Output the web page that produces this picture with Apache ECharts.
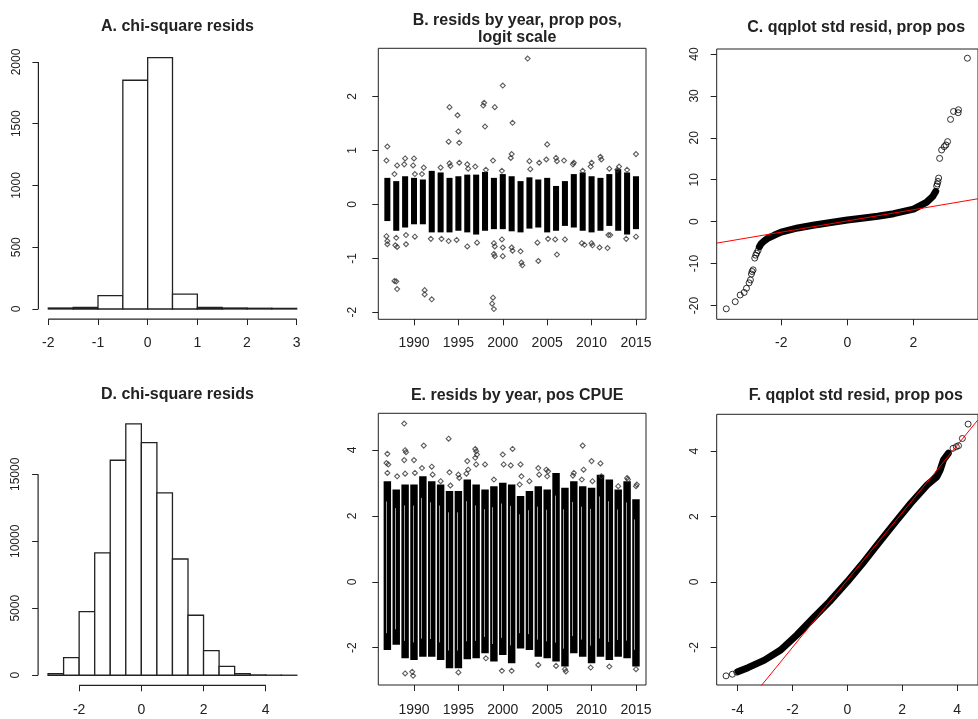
<!DOCTYPE html>
<html><head><meta charset="utf-8">
<script src="https://cdn.jsdelivr.net/npm/echarts@6/dist/echarts.min.js"></script>
<style>html,body{margin:0;padding:0;background:#fff}#c{width:978px;height:719px}</style>
</head><body><div id="c"></div>
<script>
// ---------- DATA ----------
// A. histogram of chi-square residuals (binomial part)
const histA_breaks = [-2,-1.5,-1,-0.5,0,0.5,1,1.5,2,2.5,3];
const histA_counts = [8,12,108,1852,2035,121,12,8,6,5];
const ticksA_x = [-2,-1,0,1,2,3];
const ticksA_y = [0,500,1000,1500,2000];

// D. histogram of chi-square residuals (positive part)
const histD_breaks = [-3,-2.5,-2,-1.5,-1,-0.5,0,0.5,1,1.5,2,2.5,3,3.5,4,4.5,5];
const histD_counts = [120,1320,4750,9130,16050,18760,17370,13610,8680,4480,1840,670,120,25,8,3];
const ticksD_x = [-2,0,2,4];
const ticksD_y = [0,5000,10000,15000];

// B. resids by year (logit scale): dense core per year
const years = [1987,1988,1989,1990,1991,1992,1993,1994,1995,1996,1997,1998,1999,2000,2001,2002,2003,2004,2005,2006,2007,2008,2009,2010,2011,2012,2013,2014,2015];
const coreB_low  = [-0.31,-0.49,-0.43,-0.37,-0.37,-0.52,-0.52,-0.52,-0.49,-0.52,-0.56,-0.49,-0.46,-0.46,-0.50,-0.52,-0.45,-0.43,-0.52,-0.49,-0.40,-0.43,-0.49,-0.52,-0.49,-0.40,-0.49,-0.56,-0.46];
const coreB_high = [0.49,0.43,0.52,0.49,0.46,0.62,0.59,0.49,0.52,0.55,0.55,0.60,0.49,0.56,0.52,0.43,0.50,0.46,0.49,0.34,0.43,0.56,0.59,0.52,0.49,0.56,0.65,0.59,0.52];
const outB = [
 [1987.0,1.07],[1986.9,0.81],[1986.9,-0.59],[1987.0,-0.68],[1987.0,-0.74],
 [1988.1,0.72],[1987.8,0.56],[1988.0,-0.62],[1987.9,-0.76],[1988.1,-0.79],[1987.8,-1.42],[1988.0,-1.43],[1988.1,-1.57],
 [1989.0,0.85],[1988.9,0.74],[1989.1,-0.57],[1989.1,-0.74],
 [1990.0,0.85],[1989.9,0.72],[1990.1,0.56],[1990.1,-0.60],
 [1991.1,0.68],[1990.9,0.56],[1991.2,-1.59],[1991.2,-1.67],
 [1991.9,-0.64],[1992.0,-1.76],
 [1993.0,0.68],[1993.1,-0.64],
 [1994.0,1.80],[1993.9,1.16],[1994.0,0.76],[1994.1,0.71],[1993.9,-0.68],
 [1994.9,1.65],[1995.0,1.35],[1995.1,1.14],[1995.1,0.77],[1994.8,-0.66],
 [1996.0,0.74],[1996.1,0.66],[1996.0,-0.78],
 [1996.9,0.70],[1997.1,-0.71],
 [1997.8,1.83],[1997.9,1.88],[1998.0,1.44],[1998.1,0.64],
 [1998.9,0.81],[1999.1,1.80],[1999.0,-0.72],[1999.1,-0.78],[1999.0,-0.92],[1999.1,-0.96],[1998.9,-1.73],[1998.8,-1.84],[1999.0,-1.94],
 [2000.0,2.20],[1999.9,0.62],[1999.9,-0.65],[2000.0,-0.80],[2000.0,-0.96],
 [2001.1,1.51],[2001.0,0.93],[2000.9,0.86],[2001.0,-0.80],[2001.1,-0.86],
 [2002.0,-0.87],[2002.1,-1.08],[2002.2,-1.13],
 [2002.8,2.70],[2003.0,0.80],[2003.1,0.65],
 [2004.1,0.77],[2003.9,-0.71],[2004.0,-1.05],
 [2005.0,1.11],[2004.9,0.83],[2005.1,-0.64],
 [2006.0,0.86],[2006.1,0.80],[2006.1,-0.93],[2005.9,-0.65],
 [2006.9,0.81],[2007.0,-0.65],
 [2008.0,0.77],[2007.9,0.74],
 [2009.0,0.62],[2008.9,-0.72],[2009.2,-0.75],
 [2010.0,0.77],[2009.9,0.70],[2010.0,-0.72],[2010.1,-0.76],
 [2011.0,0.88],[2011.1,0.83],[2010.9,-0.80],
 [2012.0,0.66],[2011.9,-0.57],[2012.1,-0.57],[2011.8,-0.81],
 [2013.1,0.70],[2012.9,0.64],
 [2014.0,0.64],[2013.9,-0.64],
 [2015.0,0.93],[2015.0,-0.60]
];
const ticksYear = [1990,1995,2000,2005,2010,2015];
const ticksB_y = [-2,-1,0,1,2];

// E. resids by year, positive CPUE: dense core per year
const coreE_low  = [-2.07,-1.91,-2.32,-2.37,-2.27,-2.27,-2.37,-2.62,-2.62,-2.35,-2.32,-2.17,-2.42,-2.22,-2.47,-2.02,-2.07,-2.27,-2.32,-2.42,-2.57,-2.17,-2.27,-2.47,-2.27,-2.37,-2.27,-2.32,-2.57];
const coreE_high = [3.05,2.80,2.95,2.95,3.20,3.05,2.95,2.75,2.75,3.10,2.95,2.80,2.90,3.00,2.95,2.60,2.75,2.90,2.80,3.30,2.85,3.05,2.90,2.85,3.25,3.10,2.80,3.05,2.50];
const outE = [
 [1987.0,3.88],[1986.9,3.60],[1987.1,3.56],[1987.0,3.30],
 [1988.1,3.20],
 [1988.9,4.80],[1989.0,3.99],[1989.1,3.93],[1988.9,3.69],[1989.0,3.28],[1989.0,-2.78],
 [1990.0,3.69],[1990.1,3.30],[1989.8,-2.73],[1989.9,-2.85],
 [1991.1,4.13],[1990.9,3.45],
 [1992.0,3.49],[1992.1,3.25],
 [1993.0,3.05],
 [1993.9,4.34],[1994.0,3.32],[1994.1,2.92],
 [1995.0,3.25],[1995.1,3.15],[1995.0,-2.75],
 [1996.0,3.66],[1996.1,3.40],[1995.9,3.28],
 [1996.9,4.03],[1997.0,3.96],[1997.1,3.86],[1996.9,3.76],[1997.0,3.56],
 [1998.0,3.56],[1998.1,-2.32],
 [1999.0,3.10],
 [2000.0,3.86],[2000.1,3.56],[1999.9,-2.70],
 [2001.1,4.03],[2000.9,3.53],[2001.0,-2.70],
 [2002.0,3.56],[2002.1,3.20],[2001.9,2.95],
 [2003.0,3.05],
 [2004.0,3.45],[2004.1,3.25],[2004.0,-2.52],
 [2004.9,3.40],[2005.1,3.35],[2005.0,3.20],
 [2006.0,-2.55],
 [2007.0,-2.65],[2007.1,-2.72],
 [2008.0,3.30],[2007.9,3.22],
 [2009.0,4.13],[2009.1,3.40],[2008.9,3.10],
 [2010.0,3.66],[2010.1,3.05],[2009.9,-2.60],
 [2011.0,3.59],[2011.1,3.20],
 [2012.0,-2.57],
 [2013.0,2.90],
 [2014.0,3.15],[2014.1,3.10],
 [2015.0,2.90],[2015.1,2.95],[2015.0,-2.65]
];
const ticksE_y = [-2,0,2,4];

// C. qqplot (prop pos): dense body of points, and individual tail points
const qqC_body = [[-2.66,-6.0],[-2.61,-5.3],[-2.5,-4.5],[-2.41,-4.0],[-2.2,-3.2],[-2.0,-2.5],[-1.5,-1.5],[-1.04,-0.87],[-0.5,-0.2],[0,0.4],[0.5,0.85],[0.92,1.28],[1.4,1.9],[2.0,3.0],[2.39,4.6],[2.58,6.0],[2.67,7.2]];
const qqC_tail = [[-3.66,-20.8],[-3.39,-19.1],[-3.24,-17.5],[-3.12,-16.9],[-3.05,-15.9],[-2.97,-14.6],[-2.93,-13.9],[-2.90,-12.5],[-2.88,-11.9],[-2.85,-11.5],[-2.80,-8.7],[-2.77,-8.0],[-2.74,-7.5],[-2.70,-6.9],
 [2.70,8.5],[2.72,9.0],[2.74,9.6],[2.76,10.4],[2.79,15.1],[2.85,17.1],[2.93,17.9],[2.98,18.3],[3.03,19.1],[3.12,24.4],[3.21,26.3],[3.35,26.0],[3.36,26.7],[3.63,39.0]];
const qqlineC = {intercept:0.17, slope:1.34};
const ticksC_x = [-2,0,2];
const ticksC_y = [-20,-10,0,10,20,30,40];

// F. qqplot (pos CPUE)
const qqF_body = [[-3.97,-2.74],[-3.62,-2.62],[-3.02,-2.39],[-2.43,-2.08],[-1.84,-1.62],[-1.25,-1.11],[-0.65,-0.60],[0,0.01],[0.53,0.54],[1.13,1.18],[1.72,1.80],[2.31,2.41],[2.91,2.97],[3.26,3.22],[3.38,3.42],[3.50,3.73],[3.68,3.94]];
const qqF_tail = [[-4.42,-2.87],[-4.19,-2.82],[-4.03,-2.76],[3.85,4.09],[3.97,4.14],[4.05,4.17],[4.19,4.39],[4.40,4.83]];
const qqlineF = {intercept:0.06, slope:1.03};
const ticksF_x = [-4,-2,0,2,4];
const ticksF_y = [-2,0,2,4];

const titles = ['A. chi-square resids','B. resids by year, prop pos,\nlogit scale','C. qqplot std resid, prop pos',
                'D. chi-square resids','E. resids by year, pos CPUE','F. qqplot std resid, prop pos'];

// ---------- LAYOUT / STYLE ----------
const FONT = "'Liberation Sans', Arial, sans-serif";
const INK = '#222';
const panels = [
 {grid:{left:38.4, top:47.6, width:268.2, height:271.45}, box:false, xr:[-2.2,3.2], yr:[-81.4,2116.4], xt:ticksA_x, yt:ticksA_y, xm:17, ym:16},
 {grid:{left:378.3, top:48.3, width:267.7, height:271}, box:true, xr:[1985.98,2016.13], yr:[-2.13,2.89], xt:ticksYear, yt:ticksB_y, xm:17, ym:20},
 {grid:{left:716.7, top:49, width:268.9, height:270.3}, box:true, xr:[-3.95,3.95], yr:[-23.3,41.2], xt:ticksC_x, yt:ticksC_y, xm:17, ym:16},
 {grid:{left:38.1, top:413.9, width:268.7, height:271.4}, box:false, xr:[-3.32,5.32], yr:[-750,19510], xt:ticksD_x, yt:ticksD_y, xm:18, ym:16},
 {grid:{left:378.3, top:413.3, width:267.7, height:271.7}, box:true, xr:[1985.98,2016.13], yr:[-3.13,5.11], xt:ticksYear, yt:ticksE_y, xm:18, ym:20},
 {grid:{left:716.7, top:414.3, width:268.1, height:270.7}, box:true, xr:[-4.76,4.76], yr:[-3.15,5.13], xt:ticksF_x, yt:ticksF_y, xm:18, ym:16}
];
const titleY = [21, 15, 22, 389, 390, 390];

const grid = [], xAxis = [], yAxis = [], title = [];
panels.forEach((p, i) => {
  grid.push(Object.assign({show:p.box, borderColor:INK, borderWidth:1, backgroundColor:'transparent'}, p.grid));
  xAxis.push({gridIndex:i, type:'value', min:p.xr[0], max:p.xr[1], splitLine:{show:false},
    axisLine:{show:false, onZero:false},
    axisTick:{show:true, inside:false, length:6, customValues:p.xt, lineStyle:{color:INK, width:1}},
    axisLabel:{customValues:p.xt, fontSize:14, color:INK, margin:p.xm, fontFamily:FONT, formatter:v=>String(v)}});
  yAxis.push({gridIndex:i, type:'value', min:p.yr[0], max:p.yr[1], splitLine:{show:false},
    axisLine:{show:false, onZero:false},
    axisTick:{show:true, inside:false, length:6, customValues:p.yt, lineStyle:{color:INK, width:1}},
    axisLabel:{customValues:p.yt, fontSize:12, color:INK, margin:p.ym, rotate:90, align:'center', verticalAlign:'bottom', fontFamily:FONT, formatter:v=>String(v)}});
  const cx = p.grid.left + p.grid.width/2;
  title.push({text:titles[i], left:cx, top:titleY[i]-8, textAlign:'center',
    textStyle:{fontFamily:FONT, fontWeight:'bold', fontSize:16, lineHeight:17, color:INK}});
});

const series = [];
function histSeries(gi, breaks, counts){
  const data = counts.map((c,k)=>[breaks[k], breaks[k+1], c]);
  series.push({type:'custom', xAxisIndex:gi, yAxisIndex:gi, data, encode:{x:[0,1], y:2}, clip:false,
    renderItem:(params, api)=>{
      const p0 = api.coord([api.value(0), 0]);
      const p1 = api.coord([api.value(1), api.value(2)]);
      return {type:'rect', shape:{x:p0[0], y:p1[1], width:p1[0]-p0[0], height:p0[1]-p1[1]},
        style:{fill:'#fff', stroke:INK, lineWidth:1.3}};
    }});
}
function axisLines(gi, p){
  const xl = p.xt, yl = p.yt;
  series.push({type:'line', xAxisIndex:gi, yAxisIndex:gi, data:[[xl[0], p.yr[0]],[xl[xl.length-1], p.yr[0]]],
    symbol:'none', clip:false, silent:true, lineStyle:{color:INK, width:1.2}});
  series.push({type:'line', xAxisIndex:gi, yAxisIndex:gi, data:[[p.xr[0], yl[0]],[p.xr[0], yl[yl.length-1]]],
    symbol:'none', clip:false, silent:true, lineStyle:{color:INK, width:1.2}});
}
function coreSeries(gi, low, high, halfW, streak){
  const data = years.map((y,k)=>[y, low[k], high[k]]);
  series.push({type:'custom', xAxisIndex:gi, yAxisIndex:gi, data, encode:{x:0, y:[1,2]},
    renderItem:(params, api)=>{
      const p0 = api.coord([api.value(0)-halfW, api.value(1)]);
      const p1 = api.coord([api.value(0)+halfW, api.value(2)]);
      const children = [{type:'rect', shape:{x:p0[0], y:p1[1], width:p1[0]-p0[0], height:p0[1]-p1[1]},
        style:{fill:'#000'}}];
      if (streak) {
        const sx = Math.round(p0[0] + (p1[0]-p0[0])*0.3) + 0.5;
        const h = p0[1]-p1[1];
        children.push({type:'line', shape:{x1:sx, y1:p1[1]+h*0.12, x2:sx, y2:p0[1]-h*0.1},
          style:{stroke:'#9a9a9a', lineWidth:1}});
      }
      return {type:'group', children};
    }});
}
function pointSeries(gi, data){
  series.push({type:'scatter', xAxisIndex:gi, yAxisIndex:gi, data, symbol:'diamond', symbolSize:5,
    itemStyle:{color:'rgba(0,0,0,0)', borderColor:'#333', borderWidth:1.1}});
}
function qqSeries(gi, body, tail, line, xr){
  series.push({type:'line', xAxisIndex:gi, yAxisIndex:gi, data:body, symbol:'none', smooth:false,
    lineStyle:{color:'#000', width:7, cap:'round', join:'round'}});
  series.push({type:'scatter', xAxisIndex:gi, yAxisIndex:gi, data:tail, symbol:'circle', symbolSize:6,
    itemStyle:{color:'rgba(0,0,0,0)', borderColor:'#000', borderWidth:1}});
  series.push({type:'line', xAxisIndex:gi, yAxisIndex:gi, z:5, symbol:'none', clip:true,
    data:[[xr[0], line.intercept+line.slope*xr[0]],[xr[1], line.intercept+line.slope*xr[1]]],
    lineStyle:{color:'#ff0000', width:1}});
}

histSeries(0, histA_breaks, histA_counts); axisLines(0, panels[0]);
coreSeries(1, coreB_low, coreB_high, 0.34, false); pointSeries(1, outB);
qqSeries(2, qqC_body, qqC_tail, qqlineC, panels[2].xr);
histSeries(3, histD_breaks, histD_counts); axisLines(3, panels[3]);
coreSeries(4, coreE_low, coreE_high, 0.42, true); pointSeries(4, outE);
qqSeries(5, qqF_body, qqF_tail, qqlineF, panels[5].xr);

const chart = echarts.init(document.getElementById('c'), null, {renderer:'canvas'});
chart.setOption({animation:false, backgroundColor:'#fff', title, grid, xAxis, yAxis, series});
</script></body></html>
